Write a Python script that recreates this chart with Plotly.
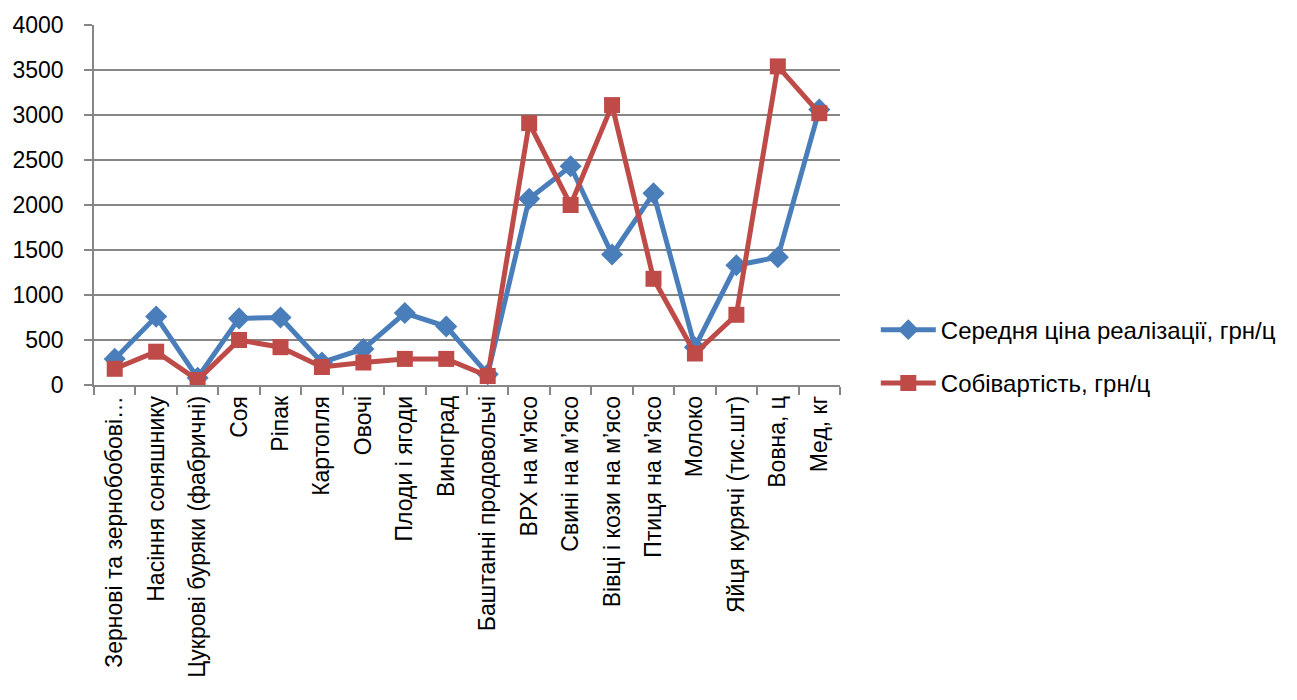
import plotly.graph_objects as go

categories = [
    "Зернові та зернобобові…",
    "Насіння соняшнику",
    "Цукрові буряки (фабричні)",
    "Соя",
    "Ріпак",
    "Картопля",
    "Овочі",
    "Плоди і ягоди",
    "Виноград",
    "Баштанні продовольчі",
    "ВРХ на м'ясо",
    "Свині на м’ясо",
    "Вівці і кози на м’ясо",
    "Птиця на м’ясо",
    "Молоко",
    "Яйця курячі (тис.шт)",
    "Вовна, ц",
    "Мед, кг",
]

avg_price = [290, 760, 80, 740, 750, 250, 400, 800, 650, 120,
             2070, 2430, 1450, 2130, 420, 1330, 1420, 3060]
cost = [180, 370, 55, 500, 420, 200, 250, 290, 290, 100,
        2910, 2000, 3110, 1180, 350, 780, 3540, 3020]

name_price = "Середня ціна реалізації, грн/ц"
name_cost = "Собівартість, грн/ц"

blue = "#4A7EBB"
red = "#BE4B48"

fig = go.Figure()
fig.add_trace(go.Scatter(
    x=categories, y=avg_price, name=name_price, legendgroup="a",
    mode="lines+markers",
    line=dict(color=blue, width=5),
    marker=dict(symbol="diamond", size=17, color=blue),
))
fig.add_trace(go.Scatter(
    x=categories, y=cost, name=name_cost, legendgroup="b",
    mode="lines+markers",
    line=dict(color=red, width=5),
    marker=dict(symbol="square", size=16, color=red),
))

fig.update_layout(
    width=1297, height=700,
    margin=dict(l=89, r=457, t=24, b=315),
    paper_bgcolor="white", plot_bgcolor="white",
    font=dict(family="Liberation Sans, Arial, sans-serif", size=20, color="black"),
    showlegend=True,
    legend=dict(
        x=1.048, y=0.215, xanchor="left", yanchor="top",
        font=dict(size=24),
        tracegroupgap=19,
        traceorder="grouped",
        itemwidth=55,
        bgcolor="rgba(0,0,0,0)",
    ),
    xaxis=dict(
        type="category",
        tickangle=-90,
        tickson="boundaries",
        ticks="outside", ticklen=8, tickcolor="#868686", tickwidth=1.5,
        showline=True, linecolor="#868686", linewidth=1.5,
        showgrid=False,
        tickfont=dict(size=23),
        range=[-0.5, 17.5],
    ),
    yaxis=dict(
        range=[0, 4000], dtick=500,
        ticks="outside", ticklen=8, tickcolor="#868686", tickwidth=1.5,
        ticklabelstandoff=16,
        showline=True, linecolor="#868686", linewidth=1.5,
        showgrid=True, gridcolor="#868686", gridwidth=1.5,
        zeroline=False,
        tickfont=dict(size=23),
    ),
)

fig.write_html("out.html")
